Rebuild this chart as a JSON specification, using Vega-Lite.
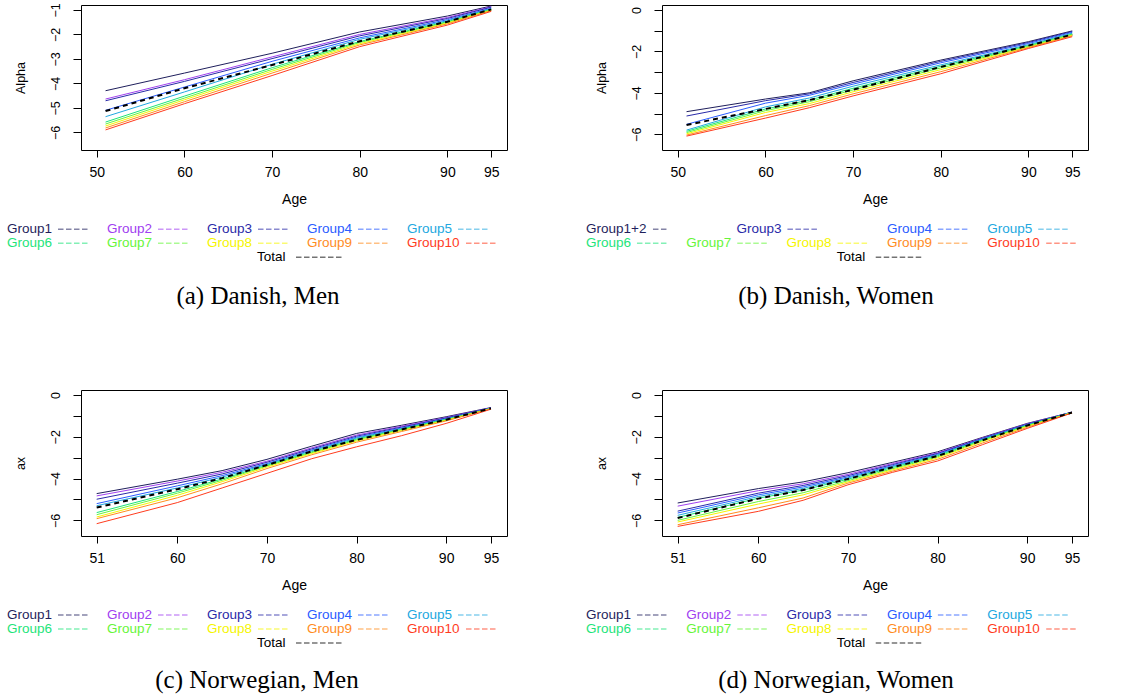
{
"$schema": "https://vega.github.io/schema/vega-lite/v6.json",
"background": "white",
"padding": {"left": 6, "top": 2, "right": 0, "bottom": 0},
"autosize": {"type": "pad"},
"bounds": "flush",
"columns": 2,
"spacing": {"row": 240, "column": 155},
"config": {
  "view": {"stroke": null},
  "font": "Liberation Sans",
  "axis": {"domain": false, "grid": false, "tickColor": "black", "tickWidth": 1, "labelColor": "black", "labelFont": "Liberation Sans", "titleFont": "Liberation Sans", "titleFontWeight": "normal", "titleColor": "black", "labelOverlap": false, "labelFlush": false},
  "axisX": {"tickSize": 7, "labelPadding": 8, "titlePadding": 13, "labelFontSize": 14, "titleFontSize": 14},
  "axisY": {"tickSize": 8, "labelAngle": -90, "labelAlign": "center", "labelBaseline": "bottom", "labelPadding": 11, "titlePadding": 22, "labelFontSize": 12.5, "titleFontSize": 12.5},
  "title": {"font": "Liberation Serif", "fontSize": 25, "fontWeight": "normal", "color": "black", "anchor": "middle", "frame": "group", "orient": "bottom", "baseline": "alphabetic"}
},
"datasets": {
"a": [
{"age":51,"group":"Group1","value":-4.30},{"age":60,"group":"Group1","value":-3.58},{"age":70,"group":"Group1","value":-2.77},{"age":80,"group":"Group1","value":-1.90},{"age":90,"group":"Group1","value":-1.25},{"age":95,"group":"Group1","value":-0.84},
{"age":51,"group":"Group2","value":-4.64},{"age":60,"group":"Group2","value":-3.85},{"age":70,"group":"Group2","value":-2.92},{"age":80,"group":"Group2","value":-2.00},{"age":90,"group":"Group2","value":-1.31},{"age":95,"group":"Group2","value":-0.87},
{"age":51,"group":"Group3","value":-4.71},{"age":60,"group":"Group3","value":-3.92},{"age":70,"group":"Group3","value":-2.99},{"age":80,"group":"Group3","value":-2.06},{"age":90,"group":"Group3","value":-1.35},{"age":95,"group":"Group3","value":-0.89},
{"age":51,"group":"Group4","value":-5.10},{"age":60,"group":"Group4","value":-4.15},{"age":70,"group":"Group4","value":-3.10},{"age":80,"group":"Group4","value":-2.14},{"age":90,"group":"Group4","value":-1.40},{"age":95,"group":"Group4","value":-0.93},
{"age":51,"group":"Group5","value":-5.36},{"age":60,"group":"Group5","value":-4.35},{"age":70,"group":"Group5","value":-3.22},{"age":80,"group":"Group5","value":-2.20},{"age":90,"group":"Group5","value":-1.44},{"age":95,"group":"Group5","value":-0.95},
{"age":51,"group":"Group6","value":-5.58},{"age":60,"group":"Group6","value":-4.52},{"age":70,"group":"Group6","value":-3.36},{"age":80,"group":"Group6","value":-2.29},{"age":90,"group":"Group6","value":-1.48},{"age":95,"group":"Group6","value":-0.98},
{"age":51,"group":"Group7","value":-5.66},{"age":60,"group":"Group7","value":-4.60},{"age":70,"group":"Group7","value":-3.43},{"age":80,"group":"Group7","value":-2.33},{"age":90,"group":"Group7","value":-1.51},{"age":95,"group":"Group7","value":-1.00},
{"age":51,"group":"Group8","value":-5.74},{"age":60,"group":"Group8","value":-4.67},{"age":70,"group":"Group8","value":-3.50},{"age":80,"group":"Group8","value":-2.38},{"age":90,"group":"Group8","value":-1.54},{"age":95,"group":"Group8","value":-1.01},
{"age":51,"group":"Group9","value":-5.82},{"age":60,"group":"Group9","value":-4.75},{"age":70,"group":"Group9","value":-3.58},{"age":80,"group":"Group9","value":-2.43},{"age":90,"group":"Group9","value":-1.57},{"age":95,"group":"Group9","value":-1.03},
{"age":51,"group":"Group10","value":-5.90},{"age":60,"group":"Group10","value":-4.83},{"age":70,"group":"Group10","value":-3.68},{"age":80,"group":"Group10","value":-2.50},{"age":90,"group":"Group10","value":-1.62},{"age":95,"group":"Group10","value":-1.06},
{"age":51,"group":"Total","value":-5.13},{"age":60,"group":"Total","value":-4.20},{"age":70,"group":"Total","value":-3.25},{"age":80,"group":"Total","value":-2.28},{"age":90,"group":"Total","value":-1.48},{"age":95,"group":"Total","value":-0.98}
],
"b": [
{"age":51,"group":"Group1+2","value":-4.91},{"age":60,"group":"Group1+2","value":-4.30},{"age":65,"group":"Group1+2","value":-4.00},{"age":70,"group":"Group1+2","value":-3.42},{"age":80,"group":"Group1+2","value":-2.42},{"age":90,"group":"Group1+2","value":-1.53},{"age":95,"group":"Group1+2","value":-1.01},
{"age":51,"group":"Group3","value":-5.12},{"age":60,"group":"Group3","value":-4.38},{"age":65,"group":"Group3","value":-4.05},{"age":70,"group":"Group3","value":-3.50},{"age":80,"group":"Group3","value":-2.48},{"age":90,"group":"Group3","value":-1.57},{"age":95,"group":"Group3","value":-1.04},
{"age":51,"group":"Group4","value":-5.52},{"age":60,"group":"Group4","value":-4.50},{"age":65,"group":"Group4","value":-4.12},{"age":70,"group":"Group4","value":-3.58},{"age":80,"group":"Group4","value":-2.55},{"age":90,"group":"Group4","value":-1.62},{"age":95,"group":"Group4","value":-1.08},
{"age":51,"group":"Group5","value":-5.80},{"age":60,"group":"Group5","value":-4.68},{"age":65,"group":"Group5","value":-4.25},{"age":70,"group":"Group5","value":-3.68},{"age":80,"group":"Group5","value":-2.65},{"age":90,"group":"Group5","value":-1.68},{"age":95,"group":"Group5","value":-1.12},
{"age":51,"group":"Group6","value":-5.86},{"age":60,"group":"Group6","value":-4.78},{"age":65,"group":"Group6","value":-4.35},{"age":70,"group":"Group6","value":-3.78},{"age":80,"group":"Group6","value":-2.72},{"age":90,"group":"Group6","value":-1.72},{"age":95,"group":"Group6","value":-1.16},
{"age":51,"group":"Group7","value":-5.92},{"age":60,"group":"Group7","value":-4.86},{"age":65,"group":"Group7","value":-4.43},{"age":70,"group":"Group7","value":-3.86},{"age":80,"group":"Group7","value":-2.80},{"age":90,"group":"Group7","value":-1.76},{"age":95,"group":"Group7","value":-1.19},
{"age":51,"group":"Group8","value":-5.98},{"age":60,"group":"Group8","value":-4.95},{"age":65,"group":"Group8","value":-4.52},{"age":70,"group":"Group8","value":-3.95},{"age":80,"group":"Group8","value":-2.88},{"age":90,"group":"Group8","value":-1.79},{"age":95,"group":"Group8","value":-1.22},
{"age":51,"group":"Group9","value":-6.04},{"age":60,"group":"Group9","value":-5.10},{"age":65,"group":"Group9","value":-4.62},{"age":70,"group":"Group9","value":-4.05},{"age":80,"group":"Group9","value":-2.98},{"age":90,"group":"Group9","value":-1.82},{"age":95,"group":"Group9","value":-1.25},
{"age":51,"group":"Group10","value":-6.09},{"age":60,"group":"Group10","value":-5.22},{"age":65,"group":"Group10","value":-4.72},{"age":70,"group":"Group10","value":-4.15},{"age":80,"group":"Group10","value":-3.08},{"age":90,"group":"Group10","value":-1.86},{"age":95,"group":"Group10","value":-1.29},
{"age":51,"group":"Total","value":-5.55},{"age":60,"group":"Total","value":-4.78},{"age":65,"group":"Total","value":-4.35},{"age":70,"group":"Total","value":-3.85},{"age":80,"group":"Total","value":-2.75},{"age":90,"group":"Total","value":-1.72},{"age":95,"group":"Total","value":-1.19}
],
"c": [
{"age":51,"group":"Group1","value":-4.72},{"age":60,"group":"Group1","value":-4.03},{"age":65,"group":"Group1","value":-3.62},{"age":70,"group":"Group1","value":-3.08},{"age":75,"group":"Group1","value":-2.45},{"age":80,"group":"Group1","value":-1.84},{"age":85,"group":"Group1","value":-1.45},{"age":90,"group":"Group1","value":-1.04},{"age":95,"group":"Group1","value":-0.60},
{"age":51,"group":"Group2","value":-4.83},{"age":60,"group":"Group2","value":-4.12},{"age":65,"group":"Group2","value":-3.70},{"age":70,"group":"Group2","value":-3.17},{"age":75,"group":"Group2","value":-2.53},{"age":80,"group":"Group2","value":-1.92},{"age":85,"group":"Group2","value":-1.50},{"age":90,"group":"Group2","value":-1.08},{"age":95,"group":"Group2","value":-0.61},
{"age":51,"group":"Group3","value":-4.99},{"age":60,"group":"Group3","value":-4.22},{"age":65,"group":"Group3","value":-3.78},{"age":70,"group":"Group3","value":-3.22},{"age":75,"group":"Group3","value":-2.58},{"age":80,"group":"Group3","value":-1.97},{"age":85,"group":"Group3","value":-1.54},{"age":90,"group":"Group3","value":-1.10},{"age":95,"group":"Group3","value":-0.62},
{"age":51,"group":"Group4","value":-5.20},{"age":60,"group":"Group4","value":-4.35},{"age":65,"group":"Group4","value":-3.86},{"age":70,"group":"Group4","value":-3.28},{"age":75,"group":"Group4","value":-2.63},{"age":80,"group":"Group4","value":-2.02},{"age":85,"group":"Group4","value":-1.58},{"age":90,"group":"Group4","value":-1.13},{"age":95,"group":"Group4","value":-0.63},
{"age":51,"group":"Group5","value":-5.30},{"age":60,"group":"Group5","value":-4.45},{"age":65,"group":"Group5","value":-3.93},{"age":70,"group":"Group5","value":-3.32},{"age":75,"group":"Group5","value":-2.67},{"age":80,"group":"Group5","value":-2.06},{"age":85,"group":"Group5","value":-1.61},{"age":90,"group":"Group5","value":-1.15},{"age":95,"group":"Group5","value":-0.64},
{"age":51,"group":"Group6","value":-5.63},{"age":60,"group":"Group6","value":-4.62},{"age":65,"group":"Group6","value":-4.02},{"age":70,"group":"Group6","value":-3.36},{"age":75,"group":"Group6","value":-2.72},{"age":80,"group":"Group6","value":-2.11},{"age":85,"group":"Group6","value":-1.64},{"age":90,"group":"Group6","value":-1.17},{"age":95,"group":"Group6","value":-0.64},
{"age":51,"group":"Group7","value":-5.73},{"age":60,"group":"Group7","value":-4.70},{"age":65,"group":"Group7","value":-4.08},{"age":70,"group":"Group7","value":-3.40},{"age":75,"group":"Group7","value":-2.76},{"age":80,"group":"Group7","value":-2.15},{"age":85,"group":"Group7","value":-1.67},{"age":90,"group":"Group7","value":-1.19},{"age":95,"group":"Group7","value":-0.65},
{"age":51,"group":"Group8","value":-5.84},{"age":60,"group":"Group8","value":-4.80},{"age":65,"group":"Group8","value":-4.15},{"age":70,"group":"Group8","value":-3.45},{"age":75,"group":"Group8","value":-2.80},{"age":80,"group":"Group8","value":-2.20},{"age":85,"group":"Group8","value":-1.70},{"age":90,"group":"Group8","value":-1.21},{"age":95,"group":"Group8","value":-0.65},
{"age":51,"group":"Group9","value":-5.92},{"age":60,"group":"Group9","value":-4.92},{"age":65,"group":"Group9","value":-4.25},{"age":70,"group":"Group9","value":-3.52},{"age":75,"group":"Group9","value":-2.86},{"age":80,"group":"Group9","value":-2.26},{"age":85,"group":"Group9","value":-1.75},{"age":90,"group":"Group9","value":-1.24},{"age":95,"group":"Group9","value":-0.66},
{"age":51,"group":"Group10","value":-6.16},{"age":60,"group":"Group10","value":-5.15},{"age":65,"group":"Group10","value":-4.45},{"age":70,"group":"Group10","value":-3.75},{"age":75,"group":"Group10","value":-3.05},{"age":80,"group":"Group10","value":-2.48},{"age":85,"group":"Group10","value":-1.95},{"age":90,"group":"Group10","value":-1.36},{"age":95,"group":"Group10","value":-0.68},
{"age":51,"group":"Total","value":-5.39},{"age":60,"group":"Total","value":-4.51},{"age":65,"group":"Total","value":-3.98},{"age":70,"group":"Total","value":-3.35},{"age":75,"group":"Total","value":-2.70},{"age":80,"group":"Total","value":-2.15},{"age":85,"group":"Total","value":-1.65},{"age":90,"group":"Total","value":-1.18},{"age":95,"group":"Total","value":-0.64}
],
"d": [
{"age":51,"group":"Group1","value":-5.17},{"age":60,"group":"Group1","value":-4.48},{"age":65,"group":"Group1","value":-4.16},{"age":70,"group":"Group1","value":-3.72},{"age":75,"group":"Group1","value":-3.22},{"age":80,"group":"Group1","value":-2.72},{"age":85,"group":"Group1","value":-2.03},{"age":90,"group":"Group1","value":-1.36},{"age":95,"group":"Group1","value":-0.82},
{"age":51,"group":"Group2","value":-5.32},{"age":60,"group":"Group2","value":-4.58},{"age":65,"group":"Group2","value":-4.25},{"age":70,"group":"Group2","value":-3.80},{"age":75,"group":"Group2","value":-3.28},{"age":80,"group":"Group2","value":-2.77},{"age":85,"group":"Group2","value":-2.06},{"age":90,"group":"Group2","value":-1.38},{"age":95,"group":"Group2","value":-0.82},
{"age":51,"group":"Group3","value":-5.56},{"age":60,"group":"Group3","value":-4.70},{"age":65,"group":"Group3","value":-4.33},{"age":70,"group":"Group3","value":-3.86},{"age":75,"group":"Group3","value":-3.33},{"age":80,"group":"Group3","value":-2.80},{"age":85,"group":"Group3","value":-2.08},{"age":90,"group":"Group3","value":-1.40},{"age":95,"group":"Group3","value":-0.83},
{"age":51,"group":"Group4","value":-5.65},{"age":60,"group":"Group4","value":-4.78},{"age":65,"group":"Group4","value":-4.40},{"age":70,"group":"Group4","value":-3.92},{"age":75,"group":"Group4","value":-3.38},{"age":80,"group":"Group4","value":-2.84},{"age":85,"group":"Group4","value":-2.10},{"age":90,"group":"Group4","value":-1.42},{"age":95,"group":"Group4","value":-0.83},
{"age":51,"group":"Group5","value":-5.76},{"age":60,"group":"Group5","value":-4.86},{"age":65,"group":"Group5","value":-4.47},{"age":70,"group":"Group5","value":-3.97},{"age":75,"group":"Group5","value":-3.42},{"age":80,"group":"Group5","value":-2.87},{"age":85,"group":"Group5","value":-2.12},{"age":90,"group":"Group5","value":-1.43},{"age":95,"group":"Group5","value":-0.83},
{"age":51,"group":"Group6","value":-5.86},{"age":60,"group":"Group6","value":-4.94},{"age":65,"group":"Group6","value":-4.55},{"age":70,"group":"Group6","value":-4.03},{"age":75,"group":"Group6","value":-3.47},{"age":80,"group":"Group6","value":-2.91},{"age":85,"group":"Group6","value":-2.15},{"age":90,"group":"Group6","value":-1.45},{"age":95,"group":"Group6","value":-0.84},
{"age":51,"group":"Group7","value":-6.00},{"age":60,"group":"Group7","value":-5.10},{"age":65,"group":"Group7","value":-4.68},{"age":70,"group":"Group7","value":-4.10},{"age":75,"group":"Group7","value":-3.53},{"age":80,"group":"Group7","value":-2.96},{"age":85,"group":"Group7","value":-2.19},{"age":90,"group":"Group7","value":-1.48},{"age":95,"group":"Group7","value":-0.84},
{"age":51,"group":"Group8","value":-6.08},{"age":60,"group":"Group8","value":-5.22},{"age":65,"group":"Group8","value":-4.78},{"age":70,"group":"Group8","value":-4.16},{"age":75,"group":"Group8","value":-3.58},{"age":80,"group":"Group8","value":-3.01},{"age":85,"group":"Group8","value":-2.23},{"age":90,"group":"Group8","value":-1.50},{"age":95,"group":"Group8","value":-0.85},
{"age":51,"group":"Group9","value":-6.21},{"age":60,"group":"Group9","value":-5.40},{"age":65,"group":"Group9","value":-4.93},{"age":70,"group":"Group9","value":-4.22},{"age":75,"group":"Group9","value":-3.64},{"age":80,"group":"Group9","value":-3.08},{"age":85,"group":"Group9","value":-2.30},{"age":90,"group":"Group9","value":-1.55},{"age":95,"group":"Group9","value":-0.85},
{"age":51,"group":"Group10","value":-6.29},{"age":60,"group":"Group10","value":-5.57},{"age":65,"group":"Group10","value":-5.04},{"age":70,"group":"Group10","value":-4.30},{"age":75,"group":"Group10","value":-3.70},{"age":80,"group":"Group10","value":-3.16},{"age":85,"group":"Group10","value":-2.38},{"age":90,"group":"Group10","value":-1.60},{"age":95,"group":"Group10","value":-0.86},
{"age":51,"group":"Total","value":-5.89},{"age":60,"group":"Total","value":-4.96},{"age":65,"group":"Total","value":-4.55},{"age":70,"group":"Total","value":-4.02},{"age":75,"group":"Total","value":-3.46},{"age":80,"group":"Total","value":-2.92},{"age":85,"group":"Total","value":-2.17},{"age":90,"group":"Total","value":-1.46},{"age":95,"group":"Total","value":-0.84}
],
"leg": [
{"panel":"a","label":"Group1","col":0,"row":1},{"panel":"a","label":"Group2","col":1,"row":1},{"panel":"a","label":"Group3","col":2,"row":1},{"panel":"a","label":"Group4","col":3,"row":1},{"panel":"a","label":"Group5","col":4,"row":1},
{"panel":"a","label":"Group6","col":0,"row":2},{"panel":"a","label":"Group7","col":1,"row":2},{"panel":"a","label":"Group8","col":2,"row":2},{"panel":"a","label":"Group9","col":3,"row":2},{"panel":"a","label":"Group10","col":4,"row":2},
{"panel":"a","label":"Total","col":2.5,"row":3},
{"panel":"b","label":"Group1+2","col":0,"row":1},{"panel":"b","label":"Group3","col":1.5,"row":1},{"panel":"b","label":"Group4","col":3,"row":1},{"panel":"b","label":"Group5","col":4,"row":1},
{"panel":"b","label":"Group6","col":0,"row":2},{"panel":"b","label":"Group7","col":1,"row":2},{"panel":"b","label":"Group8","col":2,"row":2},{"panel":"b","label":"Group9","col":3,"row":2},{"panel":"b","label":"Group10","col":4,"row":2},
{"panel":"b","label":"Total","col":2.5,"row":3},
{"panel":"c","label":"Group1","col":0,"row":1},{"panel":"c","label":"Group2","col":1,"row":1},{"panel":"c","label":"Group3","col":2,"row":1},{"panel":"c","label":"Group4","col":3,"row":1},{"panel":"c","label":"Group5","col":4,"row":1},
{"panel":"c","label":"Group6","col":0,"row":2},{"panel":"c","label":"Group7","col":1,"row":2},{"panel":"c","label":"Group8","col":2,"row":2},{"panel":"c","label":"Group9","col":3,"row":2},{"panel":"c","label":"Group10","col":4,"row":2},
{"panel":"c","label":"Total","col":2.5,"row":3},
{"panel":"d","label":"Group1","col":0,"row":1},{"panel":"d","label":"Group2","col":1,"row":1},{"panel":"d","label":"Group3","col":2,"row":1},{"panel":"d","label":"Group4","col":3,"row":1},{"panel":"d","label":"Group5","col":4,"row":1},
{"panel":"d","label":"Group6","col":0,"row":2},{"panel":"d","label":"Group7","col":1,"row":2},{"panel":"d","label":"Group8","col":2,"row":2},{"panel":"d","label":"Group9","col":3,"row":2},{"panel":"d","label":"Group10","col":4,"row":2},
{"panel":"d","label":"Total","col":2.5,"row":3}
]
},
"concat": [
{"width": 426, "height": 145, "view": {"stroke": "black", "strokeWidth": 1},
 "title": {"text": "(a) Danish, Men", "offset": 20, "dx": -36},
 "resolve": {"scale": {"x": "independent", "y": "independent"}},
 "layer": [
  {"data": {"name": "a"},
   "encoding": {
     "x": {"field": "age", "type": "quantitative", "scale": {"domain": [48.2, 96.8], "nice": false, "zero": false}, "axis": {"values": [50,60,70,80,90,95], "title": "Age"}},
     "y": {"field": "value", "type": "quantitative", "scale": {"domain": [-6.72, -0.8], "nice": false, "zero": false}, "axis": {"values": [-6,-5,-4,-3,-2,-1], "title": "Alpha"}}
   },
   "layer": [
     {"transform": [{"filter": "datum.group !== 'Total'"}], "mark": {"type": "line", "strokeWidth": 1}, "encoding": {"color": {"field": "group", "type": "nominal", "legend": null, "scale": {"domain": ["Group1","Group1+2","Group2","Group3","Group4","Group5","Group6","Group7","Group8","Group9","Group10","Total"], "range": ["#1f1f5c","#1f1f5c","#a040f0","#2a2aa8","#2a5cff","#22a8e0","#1ee47a","#66f53a","#f5f500","#ff8c1e","#ff3c1e","#000000"]}}}},
     {"transform": [{"filter": "datum.group === 'Total'"}], "mark": {"type": "line", "strokeWidth": 2, "color": "black", "strokeDash": [5, 4]}, "encoding": {}}
   ]},
  {"data": {"name": "leg"}, "transform": [{"filter": "datum.panel === 'a'"}],
   "encoding": {
     "x": {"field": "col", "type": "quantitative", "scale": {"domain": [0.74, 5.0], "nice": false, "zero": false}, "axis": null},
     "y": {"field": "row", "type": "quantitative", "scale": {"domain": [-15.021, -4.664], "reverse": true, "nice": false, "zero": false}, "axis": null},
     "color": {"field": "label", "type": "nominal", "legend": null, "scale": {"domain": ["Group1","Group1+2","Group2","Group3","Group4","Group5","Group6","Group7","Group8","Group9","Group10","Total"], "range": ["#1f1f5c","#1f1f5c","#a040f0","#2a2aa8","#2a5cff","#22a8e0","#1ee47a","#66f53a","#f5f500","#ff8c1e","#ff3c1e","#000000"]}}
   },
   "layer": [
     {"mark": {"type": "text", "align": "left", "baseline": "middle", "fontSize": 13.5, "font": "Liberation Sans"}, "encoding": {"text": {"field": "label"}}},
     {"transform": [{"filter": "datum.label !== 'Group10' && datum.label !== 'Group1+2' && datum.label !== 'Total'"}], "mark": {"type": "rule", "xOffset": 51, "x2Offset": 82, "strokeDash": [5.5, 2.5], "opacity": 0.55, "strokeWidth": 1.5}, "encoding": {"x2": {"field": "col"}}},
     {"transform": [{"filter": "datum.label === 'Group10'"}], "mark": {"type": "rule", "xOffset": 59, "x2Offset": 91, "strokeDash": [5.5, 2.5], "opacity": 0.55, "strokeWidth": 1.5}, "encoding": {"x2": {"field": "col"}}},
     {"transform": [{"filter": "datum.label === 'Total'"}], "mark": {"type": "rule", "xOffset": 39, "x2Offset": 86, "strokeDash": [5.5, 2.5], "opacity": 0.55, "strokeWidth": 1.5}, "encoding": {"x2": {"field": "col"}}}
   ]}
 ]},
{"width": 426, "height": 145, "view": {"stroke": "black", "strokeWidth": 1},
 "title": {"text": "(b) Danish, Women", "offset": 20, "dx": -39},
 "resolve": {"scale": {"x": "independent", "y": "independent"}},
 "layer": [
  {"data": {"name": "b"},
   "encoding": {
     "x": {"field": "age", "type": "quantitative", "scale": {"domain": [48.2, 96.8], "nice": false, "zero": false}, "axis": {"values": [50,60,70,80,90,95], "title": "Age"}},
     "y": {"field": "value", "type": "quantitative", "scale": {"domain": [-6.76, 0.24], "nice": false, "zero": false}, "axis": {"values": [-6,-5,-4,-3,-2,-1,0], "labelExpr": "datum.value % 2 === 0 ? datum.label : ''", "title": "Alpha"}}
   },
   "layer": [
     {"transform": [{"filter": "datum.group !== 'Total'"}], "mark": {"type": "line", "strokeWidth": 1}, "encoding": {"color": {"field": "group", "type": "nominal", "legend": null, "scale": {"domain": ["Group1","Group1+2","Group2","Group3","Group4","Group5","Group6","Group7","Group8","Group9","Group10","Total"], "range": ["#1f1f5c","#1f1f5c","#a040f0","#2a2aa8","#2a5cff","#22a8e0","#1ee47a","#66f53a","#f5f500","#ff8c1e","#ff3c1e","#000000"]}}}},
     {"transform": [{"filter": "datum.group === 'Total'"}], "mark": {"type": "line", "strokeWidth": 2, "color": "black", "strokeDash": [5, 4]}, "encoding": {}}
   ]},
  {"data": {"name": "leg"}, "transform": [{"filter": "datum.panel === 'b'"}],
   "encoding": {
     "x": {"field": "col", "type": "quantitative", "scale": {"domain": [0.758, 5.005], "nice": false, "zero": false}, "axis": null},
     "y": {"field": "row", "type": "quantitative", "scale": {"domain": [-15.021, -4.664], "reverse": true, "nice": false, "zero": false}, "axis": null},
     "color": {"field": "label", "type": "nominal", "legend": null, "scale": {"domain": ["Group1","Group1+2","Group2","Group3","Group4","Group5","Group6","Group7","Group8","Group9","Group10","Total"], "range": ["#1f1f5c","#1f1f5c","#a040f0","#2a2aa8","#2a5cff","#22a8e0","#1ee47a","#66f53a","#f5f500","#ff8c1e","#ff3c1e","#000000"]}}
   },
   "layer": [
     {"mark": {"type": "text", "align": "left", "baseline": "middle", "fontSize": 13.5, "font": "Liberation Sans"}, "encoding": {"text": {"field": "label"}}},
     {"transform": [{"filter": "datum.label !== 'Group10' && datum.label !== 'Group1+2' && datum.label !== 'Total'"}], "mark": {"type": "rule", "xOffset": 51, "x2Offset": 82, "strokeDash": [5.5, 2.5], "opacity": 0.55, "strokeWidth": 1.5}, "encoding": {"x2": {"field": "col"}}},
     {"transform": [{"filter": "datum.label === 'Group10'"}], "mark": {"type": "rule", "xOffset": 59, "x2Offset": 91, "strokeDash": [5.5, 2.5], "opacity": 0.55, "strokeWidth": 1.5}, "encoding": {"x2": {"field": "col"}}},
     {"transform": [{"filter": "datum.label === 'Group1+2'"}], "mark": {"type": "rule", "xOffset": 67, "x2Offset": 82, "strokeDash": [5.5, 2.5], "opacity": 0.55, "strokeWidth": 1.5}, "encoding": {"x2": {"field": "col"}}},
     {"transform": [{"filter": "datum.label === 'Total'"}], "mark": {"type": "rule", "xOffset": 39, "x2Offset": 86, "strokeDash": [5.5, 2.5], "opacity": 0.55, "strokeWidth": 1.5}, "encoding": {"x2": {"field": "col"}}}
   ]}
 ]},
{"width": 426, "height": 146, "view": {"stroke": "black", "strokeWidth": 1},
 "title": {"text": "(c) Norwegian, Men", "offset": 18, "dx": -37},
 "resolve": {"scale": {"x": "independent", "y": "independent"}},
 "layer": [
  {"data": {"name": "c"},
   "encoding": {
     "x": {"field": "age", "type": "quantitative", "scale": {"domain": [49.25, 96.79], "nice": false, "zero": false}, "axis": {"values": [51,60,70,80,90,95], "title": "Age"}},
     "y": {"field": "value", "type": "quantitative", "scale": {"domain": [-6.75, 0.24], "nice": false, "zero": false}, "axis": {"values": [-6,-5,-4,-3,-2,-1,0], "labelExpr": "datum.value % 2 === 0 ? datum.label : ''", "title": "ax"}}
   },
   "layer": [
     {"transform": [{"filter": "datum.group !== 'Total'"}], "mark": {"type": "line", "strokeWidth": 1}, "encoding": {"color": {"field": "group", "type": "nominal", "legend": null, "scale": {"domain": ["Group1","Group1+2","Group2","Group3","Group4","Group5","Group6","Group7","Group8","Group9","Group10","Total"], "range": ["#1f1f5c","#1f1f5c","#a040f0","#2a2aa8","#2a5cff","#22a8e0","#1ee47a","#66f53a","#f5f500","#ff8c1e","#ff3c1e","#000000"]}}}},
     {"transform": [{"filter": "datum.group === 'Total'"}], "mark": {"type": "line", "strokeWidth": 2, "color": "black", "strokeDash": [5, 4]}, "encoding": {}}
   ]},
  {"data": {"name": "leg"}, "transform": [{"filter": "datum.panel === 'c'"}],
   "encoding": {
     "x": {"field": "col", "type": "quantitative", "scale": {"domain": [0.74, 5.0], "nice": false, "zero": false}, "axis": null},
     "y": {"field": "row", "type": "quantitative", "scale": {"domain": [-15.071, -4.643], "reverse": true, "nice": false, "zero": false}, "axis": null},
     "color": {"field": "label", "type": "nominal", "legend": null, "scale": {"domain": ["Group1","Group1+2","Group2","Group3","Group4","Group5","Group6","Group7","Group8","Group9","Group10","Total"], "range": ["#1f1f5c","#1f1f5c","#a040f0","#2a2aa8","#2a5cff","#22a8e0","#1ee47a","#66f53a","#f5f500","#ff8c1e","#ff3c1e","#000000"]}}
   },
   "layer": [
     {"mark": {"type": "text", "align": "left", "baseline": "middle", "fontSize": 13.5, "font": "Liberation Sans"}, "encoding": {"text": {"field": "label"}}},
     {"transform": [{"filter": "datum.label !== 'Group10' && datum.label !== 'Group1+2' && datum.label !== 'Total'"}], "mark": {"type": "rule", "xOffset": 51, "x2Offset": 82, "strokeDash": [5.5, 2.5], "opacity": 0.55, "strokeWidth": 1.5}, "encoding": {"x2": {"field": "col"}}},
     {"transform": [{"filter": "datum.label === 'Group10'"}], "mark": {"type": "rule", "xOffset": 59, "x2Offset": 91, "strokeDash": [5.5, 2.5], "opacity": 0.55, "strokeWidth": 1.5}, "encoding": {"x2": {"field": "col"}}},
     {"transform": [{"filter": "datum.label === 'Total'"}], "mark": {"type": "rule", "xOffset": 39, "x2Offset": 86, "strokeDash": [5.5, 2.5], "opacity": 0.55, "strokeWidth": 1.5}, "encoding": {"x2": {"field": "col"}}}
   ]}
 ]},
{"width": 426, "height": 146, "view": {"stroke": "black", "strokeWidth": 1},
 "title": {"text": "(d) Norwegian, Women", "offset": 18, "dx": -39},
 "resolve": {"scale": {"x": "independent", "y": "independent"}},
 "layer": [
  {"data": {"name": "d"},
   "encoding": {
     "x": {"field": "age", "type": "quantitative", "scale": {"domain": [49.25, 96.79], "nice": false, "zero": false}, "axis": {"values": [51,60,70,80,90,95], "title": "Age"}},
     "y": {"field": "value", "type": "quantitative", "scale": {"domain": [-6.75, 0.24], "nice": false, "zero": false}, "axis": {"values": [-6,-5,-4,-3,-2,-1,0], "labelExpr": "datum.value % 2 === 0 ? datum.label : ''", "title": "ax"}}
   },
   "layer": [
     {"transform": [{"filter": "datum.group !== 'Total'"}], "mark": {"type": "line", "strokeWidth": 1}, "encoding": {"color": {"field": "group", "type": "nominal", "legend": null, "scale": {"domain": ["Group1","Group1+2","Group2","Group3","Group4","Group5","Group6","Group7","Group8","Group9","Group10","Total"], "range": ["#1f1f5c","#1f1f5c","#a040f0","#2a2aa8","#2a5cff","#22a8e0","#1ee47a","#66f53a","#f5f500","#ff8c1e","#ff3c1e","#000000"]}}}},
     {"transform": [{"filter": "datum.group === 'Total'"}], "mark": {"type": "line", "strokeWidth": 2, "color": "black", "strokeDash": [5, 4]}, "encoding": {}}
   ]},
  {"data": {"name": "leg"}, "transform": [{"filter": "datum.panel === 'd'"}],
   "encoding": {
     "x": {"field": "col", "type": "quantitative", "scale": {"domain": [0.758, 5.005], "nice": false, "zero": false}, "axis": null},
     "y": {"field": "row", "type": "quantitative", "scale": {"domain": [-15.071, -4.643], "reverse": true, "nice": false, "zero": false}, "axis": null},
     "color": {"field": "label", "type": "nominal", "legend": null, "scale": {"domain": ["Group1","Group1+2","Group2","Group3","Group4","Group5","Group6","Group7","Group8","Group9","Group10","Total"], "range": ["#1f1f5c","#1f1f5c","#a040f0","#2a2aa8","#2a5cff","#22a8e0","#1ee47a","#66f53a","#f5f500","#ff8c1e","#ff3c1e","#000000"]}}
   },
   "layer": [
     {"mark": {"type": "text", "align": "left", "baseline": "middle", "fontSize": 13.5, "font": "Liberation Sans"}, "encoding": {"text": {"field": "label"}}},
     {"transform": [{"filter": "datum.label !== 'Group10' && datum.label !== 'Group1+2' && datum.label !== 'Total'"}], "mark": {"type": "rule", "xOffset": 51, "x2Offset": 82, "strokeDash": [5.5, 2.5], "opacity": 0.55, "strokeWidth": 1.5}, "encoding": {"x2": {"field": "col"}}},
     {"transform": [{"filter": "datum.label === 'Group10'"}], "mark": {"type": "rule", "xOffset": 59, "x2Offset": 91, "strokeDash": [5.5, 2.5], "opacity": 0.55, "strokeWidth": 1.5}, "encoding": {"x2": {"field": "col"}}},
     {"transform": [{"filter": "datum.label === 'Total'"}], "mark": {"type": "rule", "xOffset": 39, "x2Offset": 86, "strokeDash": [5.5, 2.5], "opacity": 0.55, "strokeWidth": 1.5}, "encoding": {"x2": {"field": "col"}}}
   ]}
 ]}
]
}
